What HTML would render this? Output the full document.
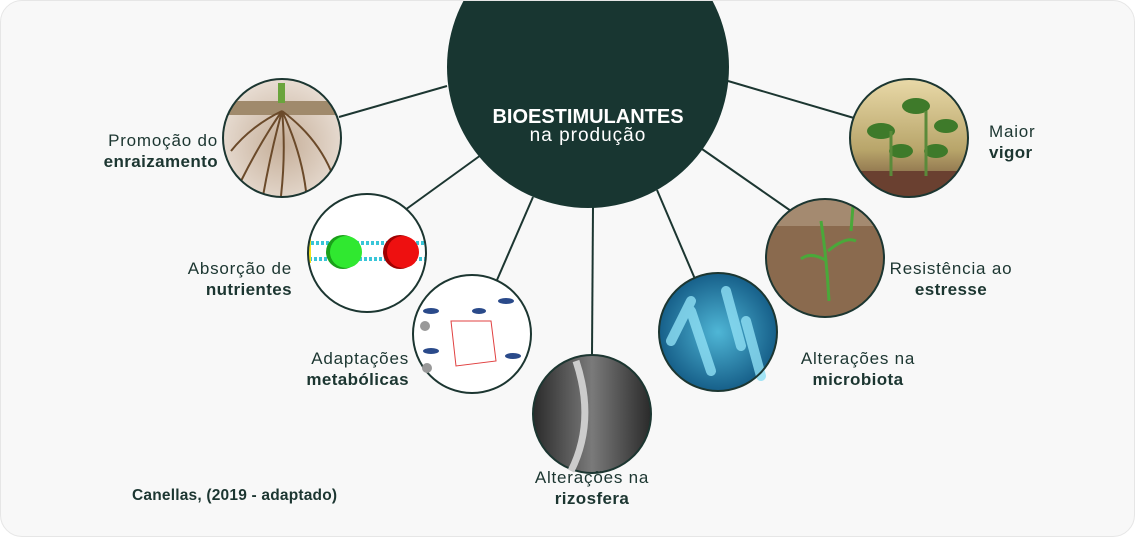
<!DOCTYPE html>
<html><head><meta charset="utf-8"><style>
html,body{margin:0;padding:0;width:1135px;height:537px;overflow:hidden;background:#fff;font-family:"Liberation Sans",sans-serif}
.card{position:absolute;left:0;top:0;width:1133px;height:535px;background:#f8f8f8;border:1px solid #e6e6e6;border-radius:22px;overflow:hidden}
.lbl{position:absolute;color:#1c3631;font-size:17px;line-height:21px;letter-spacing:0.8px}
.lbl b{font-weight:bold;letter-spacing:0.4px}
.l{text-align:right}
.c{text-align:center}
</style></head><body>
<div class="card">
<svg width="1135" height="537" style="position:absolute;left:0;top:0">
<defs>
<radialGradient id="soil" cx="50%" cy="55%" r="55%"><stop offset="0" stop-color="#c5ae98"/><stop offset="1" stop-color="#e8ddd3"/></radialGradient>
<linearGradient id="sky" x1="0" y1="0" x2="0" y2="1"><stop offset="0" stop-color="#e9d9a8"/><stop offset="0.6" stop-color="#b8a56a"/><stop offset="1" stop-color="#6b4a36"/></linearGradient>
<radialGradient id="bact" cx="50%" cy="50%" r="60%"><stop offset="0" stop-color="#4fb6d6"/><stop offset="1" stop-color="#0b4e7a"/></radialGradient>
<linearGradient id="gray" x1="0" y1="0" x2="1" y2="0"><stop offset="0" stop-color="#2a2a2a"/><stop offset="0.5" stop-color="#7a7a7a"/><stop offset="1" stop-color="#2a2a2a"/></linearGradient>
<clipPath id="c1"><circle cx="281" cy="137" r="59"/></clipPath>
<clipPath id="c2"><circle cx="366" cy="252" r="59"/></clipPath>
<clipPath id="c6"><circle cx="824" cy="257" r="59"/></clipPath>
<clipPath id="c7"><circle cx="908" cy="137" r="59"/></clipPath>
</defs>
<g stroke="#1c3631" stroke-width="2">
<line x1="446" y1="85" x2="338" y2="116"/>
<line x1="480" y1="154" x2="404" y2="209"/>
<line x1="532" y1="196" x2="496" y2="279"/>
<line x1="592" y1="206" x2="591" y2="354"/>
<line x1="656" y1="189" x2="694" y2="278"/>
<line x1="701" y1="148" x2="790" y2="210"/>
<line x1="727" y1="80" x2="853" y2="117"/>
</g>
<circle cx="587" cy="66" r="141" fill="#183631"/>
<text x="587" y="122" fill="#fff" font-size="20" font-weight="bold" text-anchor="middle" font-family="Liberation Sans">BIOESTIMULANTES</text>
<text x="587" y="140" fill="#fff" font-size="19" letter-spacing="1" text-anchor="middle" font-family="Liberation Sans">na produção</text>
<circle cx="281" cy="137" r="59" fill="url(#soil)"/>
<g clip-path="url(#c1)">
<rect x="220" y="100" width="125" height="14" fill="#a08a6c"/>
<rect x="277" y="82" width="7" height="20" fill="#6aa43c"/>
<g stroke="#6b4a2a" stroke-width="2" fill="none">
<path d="M281 110 Q260 140 240 180"/><path d="M281 110 Q270 150 262 195"/><path d="M281 110 Q285 150 280 195"/><path d="M281 110 Q300 150 305 190"/><path d="M281 110 Q315 135 330 170"/><path d="M281 110 Q250 125 230 150"/>
</g></g>
<circle cx="281" cy="137" r="59" fill="none" stroke="#1c3631" stroke-width="2"/>
<circle cx="366" cy="252" r="59" fill="#fff"/>
<g clip-path="url(#c2)">
<rect x="305" y="242" width="125" height="16" fill="#fff" stroke="#39c6d8" stroke-width="4" stroke-dasharray="3 2"/>
<circle cx="342" cy="251" r="17" fill="#1aa01a"/><circle cx="345" cy="251" r="16" fill="#30e830"/>
<circle cx="399" cy="251" r="17" fill="#a00000"/><circle cx="402" cy="251" r="16" fill="#ee1010"/>
<rect x="304" y="238" width="6" height="24" fill="#f0e020"/>
</g>
<circle cx="366" cy="252" r="59" fill="none" stroke="#1c3631" stroke-width="2"/>
<circle cx="471" cy="333" r="59" fill="#fff" stroke="#1c3631" stroke-width="2"/>
<g fill="#2a4a8a"><ellipse cx="430" cy="310" rx="8" ry="3"/><ellipse cx="505" cy="300" rx="8" ry="3"/><ellipse cx="430" cy="350" rx="8" ry="3"/><ellipse cx="512" cy="355" rx="8" ry="3"/><ellipse cx="478" cy="310" rx="7" ry="3"/></g>
<g stroke="#e04040" stroke-width="1" fill="none"><path d="M450 320 L490 320 L495 360 L455 365 Z"/></g>
<circle cx="424" cy="325" r="5" fill="#999"/><circle cx="426" cy="367" r="5" fill="#999"/>
<circle cx="591" cy="413" r="59" fill="url(#gray)" stroke="#1c3631" stroke-width="2"/>
<path d="M575 360 Q595 420 570 470" stroke="#ccc" stroke-width="7" fill="none"/>
<circle cx="717" cy="331" r="59" fill="url(#bact)"/>
<g stroke="#8fe0f5" stroke-width="10" stroke-linecap="round" opacity="0.8"><line x1="690" y1="310" x2="710" y2="370"/><line x1="725" y1="290" x2="740" y2="345"/><line x1="745" y1="320" x2="760" y2="375"/><line x1="670" y1="340" x2="690" y2="300"/></g>
<circle cx="717" cy="331" r="59" fill="none" stroke="#1c3631" stroke-width="2"/>
<circle cx="824" cy="257" r="59" fill="#8a6a4e"/>
<g clip-path="url(#c6)"><rect x="760" y="195" width="130" height="30" fill="#a48a70"/>
<g stroke="#4aa83a" stroke-width="3" fill="none"><path d="M828 300 Q826 260 820 220"/><path d="M826 260 Q810 250 800 258"/><path d="M827 250 Q845 235 855 240"/><path d="M850 230 L852 205"/></g></g>
<circle cx="824" cy="257" r="59" fill="none" stroke="#1c3631" stroke-width="2"/>
<circle cx="908" cy="137" r="59" fill="url(#sky)"/>
<g clip-path="url(#c7)"><rect x="848" y="170" width="125" height="30" fill="#6a4030"/>
<g fill="#3e7a2a"><ellipse cx="880" cy="130" rx="14" ry="8"/><ellipse cx="915" cy="105" rx="14" ry="8"/><ellipse cx="945" cy="125" rx="12" ry="7"/><ellipse cx="900" cy="150" rx="12" ry="7"/><ellipse cx="935" cy="150" rx="12" ry="7"/></g>
<g stroke="#5a8a3a" stroke-width="3"><line x1="890" y1="130" x2="890" y2="175"/><line x1="925" y1="110" x2="925" y2="175"/></g></g>
<circle cx="908" cy="137" r="59" fill="none" stroke="#1c3631" stroke-width="2"/>
</svg>
<div class="lbl l" style="right:916px;top:129px">Promoção do<br><b>enraizamento</b></div>
<div class="lbl l" style="right:842px;top:257px">Absorção de<br><b>nutrientes</b></div>
<div class="lbl l" style="right:725px;top:347px">Adaptações<br><b>metabólicas</b></div>
<div class="lbl c" style="left:481px;width:220px;top:466px">Alterações na<br><b>rizosfera</b></div>
<div class="lbl" style="left:782px;top:347px;width:150px;text-align:center">Alterações na<br><b>microbiota</b></div>
<div class="lbl" style="left:884px;top:257px;width:132px;text-align:center">Resistência ao<br><b>estresse</b></div>
<div class="lbl" style="left:988px;top:120px">Maior<br><b>vigor</b></div>
<div class="lbl" style="left:131px;top:484px;font-size:15.5px;font-weight:bold;letter-spacing:0.2px">Canellas, (2019 - adaptado)</div>
</div>
</body></html>
